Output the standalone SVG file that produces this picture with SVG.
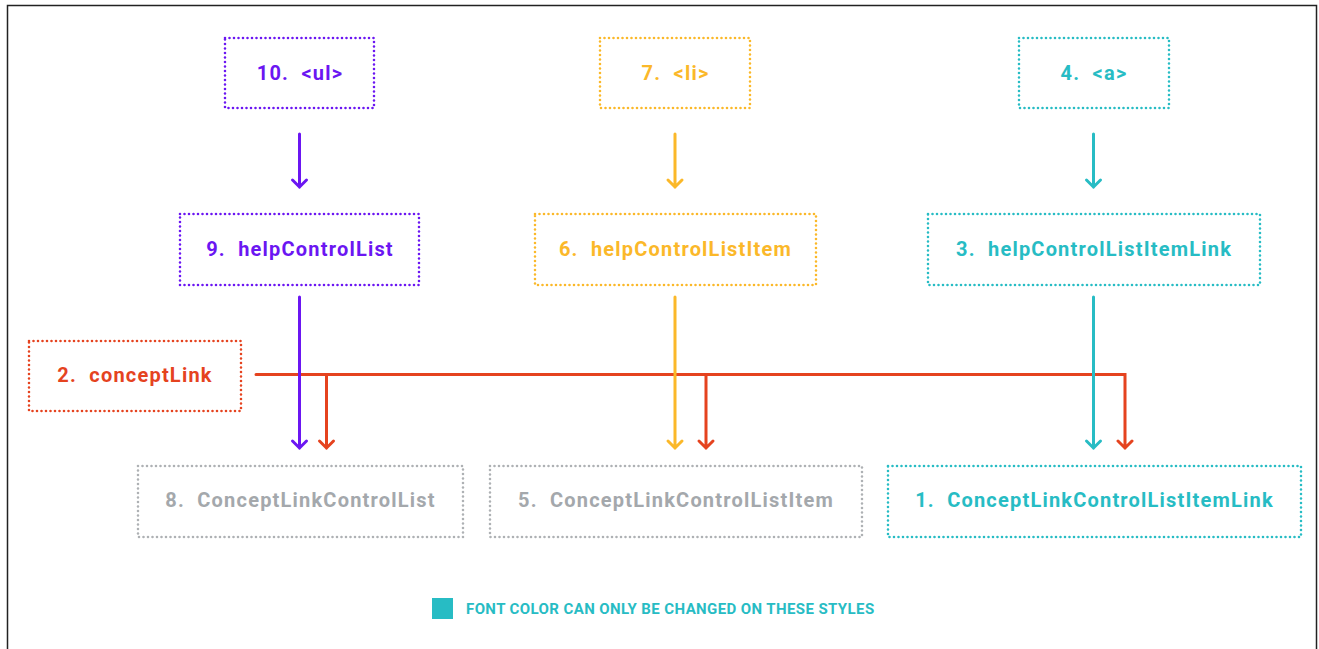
<svg xmlns="http://www.w3.org/2000/svg" width="1319" height="649" viewBox="0 0 1319 649">
<style>
.box{fill:none;stroke-width:2.6;stroke-dasharray:0 4.5;stroke-linecap:round;}
.lbl{font-family:Roboto,"Liberation Sans",sans-serif;font-weight:700;font-size:20px;letter-spacing:1.2px;text-anchor:middle;white-space:pre;}
.pu{stroke:#6b16f2;} .puf{fill:#6b16f2;}
.ye{stroke:#fbb829;} .yef{fill:#fbb829;}
.cy{stroke:#27bcc4;} .cyf{fill:#27bcc4;}
.rd{stroke:#e5431f;} .rdf{fill:#e5431f;}
.gr{stroke:#aeb1b4;} .grf{fill:#a4a8ac;}
.ln{fill:none;stroke-width:3;stroke-linecap:round;stroke-linejoin:miter;}
</style>
<rect x="7.5" y="5.5" width="1309" height="700" fill="#fff" stroke="#222" stroke-width="1.5"/>
<g id="connectors">
<path class="ln pu" d="M299.5,134 V187 M292.5,180 L299.5,187 L306.5,180"/>
<path class="ln ye" d="M675,134 V187 M668,180 L675,187 L682,180"/>
<path class="ln cy" d="M1093.5,134 V187 M1086.5,180 L1093.5,187 L1100.5,180"/>
<path class="ln rd" d="M256,374.5 H1125 V448 M1118,441 L1125,448 L1132,441"/>
<path class="ln rd" d="M326.5,374.5 V448 M319.5,441 L326.5,448 L333.5,441"/>
<path class="ln rd" d="M706,374.5 V448 M699,441 L706,448 L713,441"/>
<path class="ln pu" d="M299.5,297 V448 M292.5,441 L299.5,448 L306.5,441"/>
<path class="ln ye" d="M675,297 V448 M668,441 L675,448 L682,441"/>
<path class="ln cy" d="M1093.5,297 V448 M1086.5,441 L1093.5,448 L1100.5,441"/>
</g>
<g id="n10"><rect class="box pu" x="225" y="38" width="149" height="70"/><text class="lbl puf" x="300" y="80">10.  &lt;ul&gt;</text></g>
<g id="n7"><rect class="box ye" x="600" y="38" width="150" height="70"/><text class="lbl yef" x="675.5" y="80">7.  &lt;li&gt;</text></g>
<g id="n4"><rect class="box cy" x="1019" y="38" width="150" height="70"/><text class="lbl cyf" x="1094" y="80">4.  &lt;a&gt;</text></g>
<g id="n9"><rect class="box pu" x="180" y="214" width="239" height="71"/><text class="lbl puf" x="300" y="256">9.  helpControlList</text></g>
<g id="n6"><rect class="box ye" x="535" y="214" width="281" height="71"/><text class="lbl yef" x="675.5" y="256">6.  helpControlListItem</text></g>
<g id="n3"><rect class="box cy" x="928" y="214" width="332" height="71"/><text class="lbl cyf" x="1094" y="256">3.  helpControlListItemLink</text></g>
<g id="n2"><rect class="box rd" x="29" y="341" width="212" height="70"/><text class="lbl rdf" x="135" y="382">2.  conceptLink</text></g>
<g id="n8"><rect class="box gr" x="138" y="466" width="325" height="71"/><text class="lbl grf" x="300.5" y="507">8.  ConceptLinkControlList</text></g>
<g id="n5"><rect class="box gr" x="490" y="466" width="372" height="71"/><text class="lbl grf" x="676" y="507">5.  ConceptLinkControlListItem</text></g>
<g id="n1"><rect class="box cy" x="888" y="466" width="413" height="71"/><text class="lbl cyf" x="1094.5" y="507">1.  ConceptLinkControlListItemLink</text></g>
<g id="legend"><rect x="432" y="598" width="21" height="21" fill="#27bcc4"/><text x="466" y="614" font-family="Roboto,'Liberation Sans',sans-serif" font-weight="700" font-size="15" letter-spacing="0.4" fill="#27bcc4" style="white-space:pre">FONT COLOR CAN ONLY BE CHANGED ON THESE STYLES</text></g>
</svg>
